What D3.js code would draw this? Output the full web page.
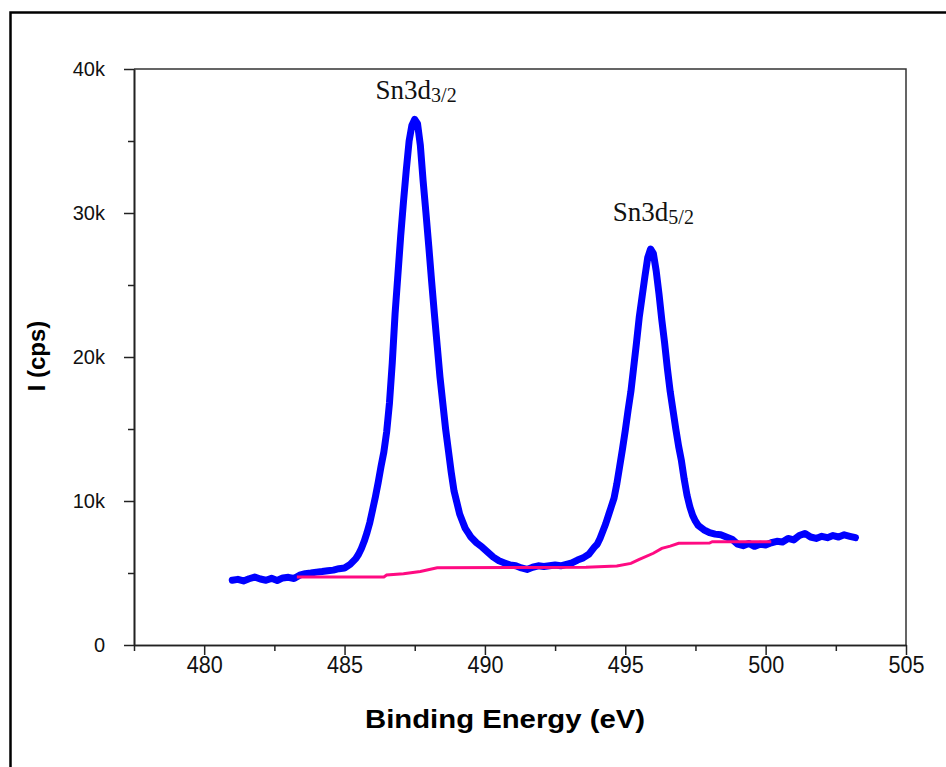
<!DOCTYPE html>
<html><head><meta charset="utf-8">
<script src="https://cdn.jsdelivr.net/npm/d3@7"></script>
<style>html,body{margin:0;padding:0;background:#fff;}svg{display:block;}</style>
</head><body>
<script>
// ---- data ----
const spectrumEnergy = [
481.0,481.2,481.4,481.6,481.8,482.0,482.2,482.4,482.6,482.8,483.0,483.2,483.4,483.6,483.8,484.0,484.2,484.4,484.6,484.8,485.0,485.2,485.4,
485.5,485.6,485.7,485.8,485.9,486.0,486.1,486.2,486.3,486.4,486.5,486.6,486.7,486.8,486.9,487.0,487.1,487.2,487.3,487.4,487.5,487.6,487.7,487.8,487.9,488.0,488.1,488.2,488.3,488.4,488.5,488.6,488.7,488.8,488.9,489.0,489.1,489.2,489.3,489.4,489.5,
489.7,489.9,490.1,490.3,490.5,490.7,490.9,491.1,491.3,491.5,491.7,491.9,492.1,492.3,492.5,492.7,492.9,493.1,493.3,493.5,493.7,493.9,
494.0,494.1,494.2,494.3,494.4,494.5,494.6,494.7,494.8,494.9,495.0,495.1,495.2,495.3,495.4,495.5,495.6,495.7,495.8,495.9,496.0,496.1,496.2,496.3,496.4,496.5,496.6,496.7,496.8,496.9,497.0,497.1,497.2,497.3,497.4,497.5,497.6,
497.8,498.0,498.2,498.4,498.6,498.8,499.0,499.2,499.4,499.6,499.8,500.0,500.2,500.4,500.6,500.8,501.0,501.2,501.4,501.6,501.8,502.0,502.2,502.4,502.6,502.8,503.0,503.2];
const spectrumCounts = [
4500,4560,4450,4600,4720,4580,4500,4630,4480,4660,4700,4620,4850,4950,5000,5060,5100,5150,5200,5300,5350,5600,6000,
6300,6700,7200,7800,8500,9400,10300,11300,12400,13400,14800,16800,19600,23000,25700,28400,30800,33000,35000,36100,36500,36200,34700,32200,30000,27700,25300,23000,20800,18600,16800,15000,13500,12000,10700,9900,9100,8600,8100,7800,7500,
7100,6800,6450,6100,5850,5700,5550,5500,5350,5250,5400,5500,5450,5500,5550,5500,5600,5700,5900,6050,6300,6800,
7000,7400,7900,8400,9000,9600,10200,11200,12400,13600,14900,16300,17600,19300,21000,22800,24200,25600,26900,27500,27200,26000,24400,22600,21000,19200,17600,16300,15000,13800,12800,11500,10400,9600,9000,8600,8300,
8000,7800,7700,7650,7500,7350,7000,6900,7050,6850,7000,6950,7100,7200,7150,7400,7300,7600,7750,7500,7400,7550,7450,7600,7500,7650,7550,7450];

const backgroundEnergy = [483.3,486.4,486.5,487.1,487.7,488.3,493.6,494.7,495.2,495.5,496.0,496.3,496.6,496.9,498.0,498.1,500.2];
const backgroundCounts = [4720,4720,4860,4950,5100,5360,5400,5480,5670,5950,6370,6710,6870,7060,7080,7170,7170];

const xMajorTicks = [480,485,490,495,500,505];
const xMinorTicks = [477.5,482.5,487.5,492.5,497.5,502.5];
const yMajorTicks = [0,10000,20000,30000,40000];
const yMinorTicks = [5000,15000,25000,35000];
const yTickLabels = ["0","10k","20k","30k","40k"];

const peakLabels = [
  {main:"Sn3d", sub:"3/2", e:487.55, c:37950},
  {main:"Sn3d", sub:"5/2", e:496.0, c:29450}
];

// ---- layout ----
const W=946,H=767;
const m={left:134,top:69,right:906,bottom:645};
const svg=d3.select("body").append("svg").attr("width",W).attr("height",H);

// outer frame
svg.append("path").attr("d",`M10.5,${H+5} L10.5,12.5 L${W+5},12.5`)
  .attr("fill","none").attr("stroke","#000").attr("stroke-width",2.5);

const x=d3.scaleLinear().domain([477.5,505]).range([m.left,m.right]);
const y=d3.scaleLinear().domain([0,40000]).range([m.bottom,m.top]);

// plot box (top/right)
svg.append("path").attr("d",`M${m.left},${m.top} L${m.right},${m.top} L${m.right},${m.bottom}`)
  .attr("fill","none").attr("stroke","#333").attr("stroke-width",1.5);

// axes
const gx=svg.append("g").attr("transform",`translate(0,${m.bottom})`);
gx.call(d3.axisBottom(x).tickValues(xMajorTicks).tickSize(10).tickSizeOuter(0).tickFormat(d3.format("d")));
const gxm=svg.append("g").attr("transform",`translate(0,${m.bottom})`);
gxm.call(d3.axisBottom(x).tickValues(xMinorTicks).tickSize(6).tickSizeOuter(0).tickFormat(""));
[gx,gxm].forEach(g=>{g.select(".domain").attr("stroke","#222").attr("stroke-width",1.6);
  g.selectAll(".tick line").attr("stroke","#222").attr("stroke-width",1.5);});
gx.selectAll(".tick text").attr("font-family","'Liberation Sans',Arial,sans-serif")
  .attr("font-size",24).attr("fill","#111").attr("y",9).attr("dy","0.8em")
  .attr("textLength",36).attr("lengthAdjust","spacingAndGlyphs");

const gy=svg.append("g").attr("transform",`translate(${m.left},0)`);
gy.call(d3.axisLeft(y).tickValues(yMajorTicks).tickSize(10).tickSizeOuter(0).tickFormat((d,i)=>yTickLabels[i]));
const gym=svg.append("g").attr("transform",`translate(${m.left},0)`);
gym.call(d3.axisLeft(y).tickValues(yMinorTicks).tickSize(6).tickSizeOuter(0).tickFormat(""));
[gy,gym].forEach(g=>{g.select(".domain").attr("stroke","#222").attr("stroke-width",1.6);
  g.selectAll(".tick line").attr("stroke","#222").attr("stroke-width",1.5);});
gy.selectAll(".tick text").attr("font-family","'Liberation Sans',Arial,sans-serif")
  .attr("font-size",20).attr("fill","#111").attr("x",-29);

// titles
svg.append("text").attr("x",505).attr("y",728).attr("text-anchor","middle")
  .attr("font-family","'Liberation Sans',Arial,sans-serif")
  .attr("font-weight","bold").attr("font-size",26).attr("fill","#000")
  .attr("textLength",280).attr("lengthAdjust","spacingAndGlyphs")
  .text("Binding Energy (eV)");
svg.append("text").attr("transform","translate(45,356) rotate(-90)").attr("text-anchor","middle")
  .attr("font-family","'Liberation Sans',Arial,sans-serif")
  .attr("font-weight","bold").attr("font-size",24).attr("fill","#000")
  .text("I (cps)");

// curves
const spec=spectrumEnergy.map((e,i)=>[e,spectrumCounts[i]]);
const bg=backgroundEnergy.map((e,i)=>[e,backgroundCounts[i]]);
const line=d3.line().x(d=>x(d[0])).y(d=>y(d[1]));
svg.append("path").datum(spec).attr("d",line).attr("fill","none")
  .attr("stroke","#0000ff").attr("stroke-width",7).attr("stroke-linejoin","round").attr("stroke-linecap","round");
svg.append("path").datum(bg).attr("d",line).attr("fill","none")
  .attr("stroke","#ff0a82").attr("stroke-width",3);

// peak labels
peakLabels.forEach(p=>{
  const t=svg.append("text").attr("x",x(p.e)).attr("y",y(p.c)).attr("text-anchor","middle")
    .attr("font-family","'Liberation Serif','Times New Roman',serif").attr("font-size",27).attr("fill","#111");
  t.append("tspan").text(p.main);
  t.append("tspan").attr("font-size",20).attr("dy",3).text(p.sub);
});
</script>
</body></html>
